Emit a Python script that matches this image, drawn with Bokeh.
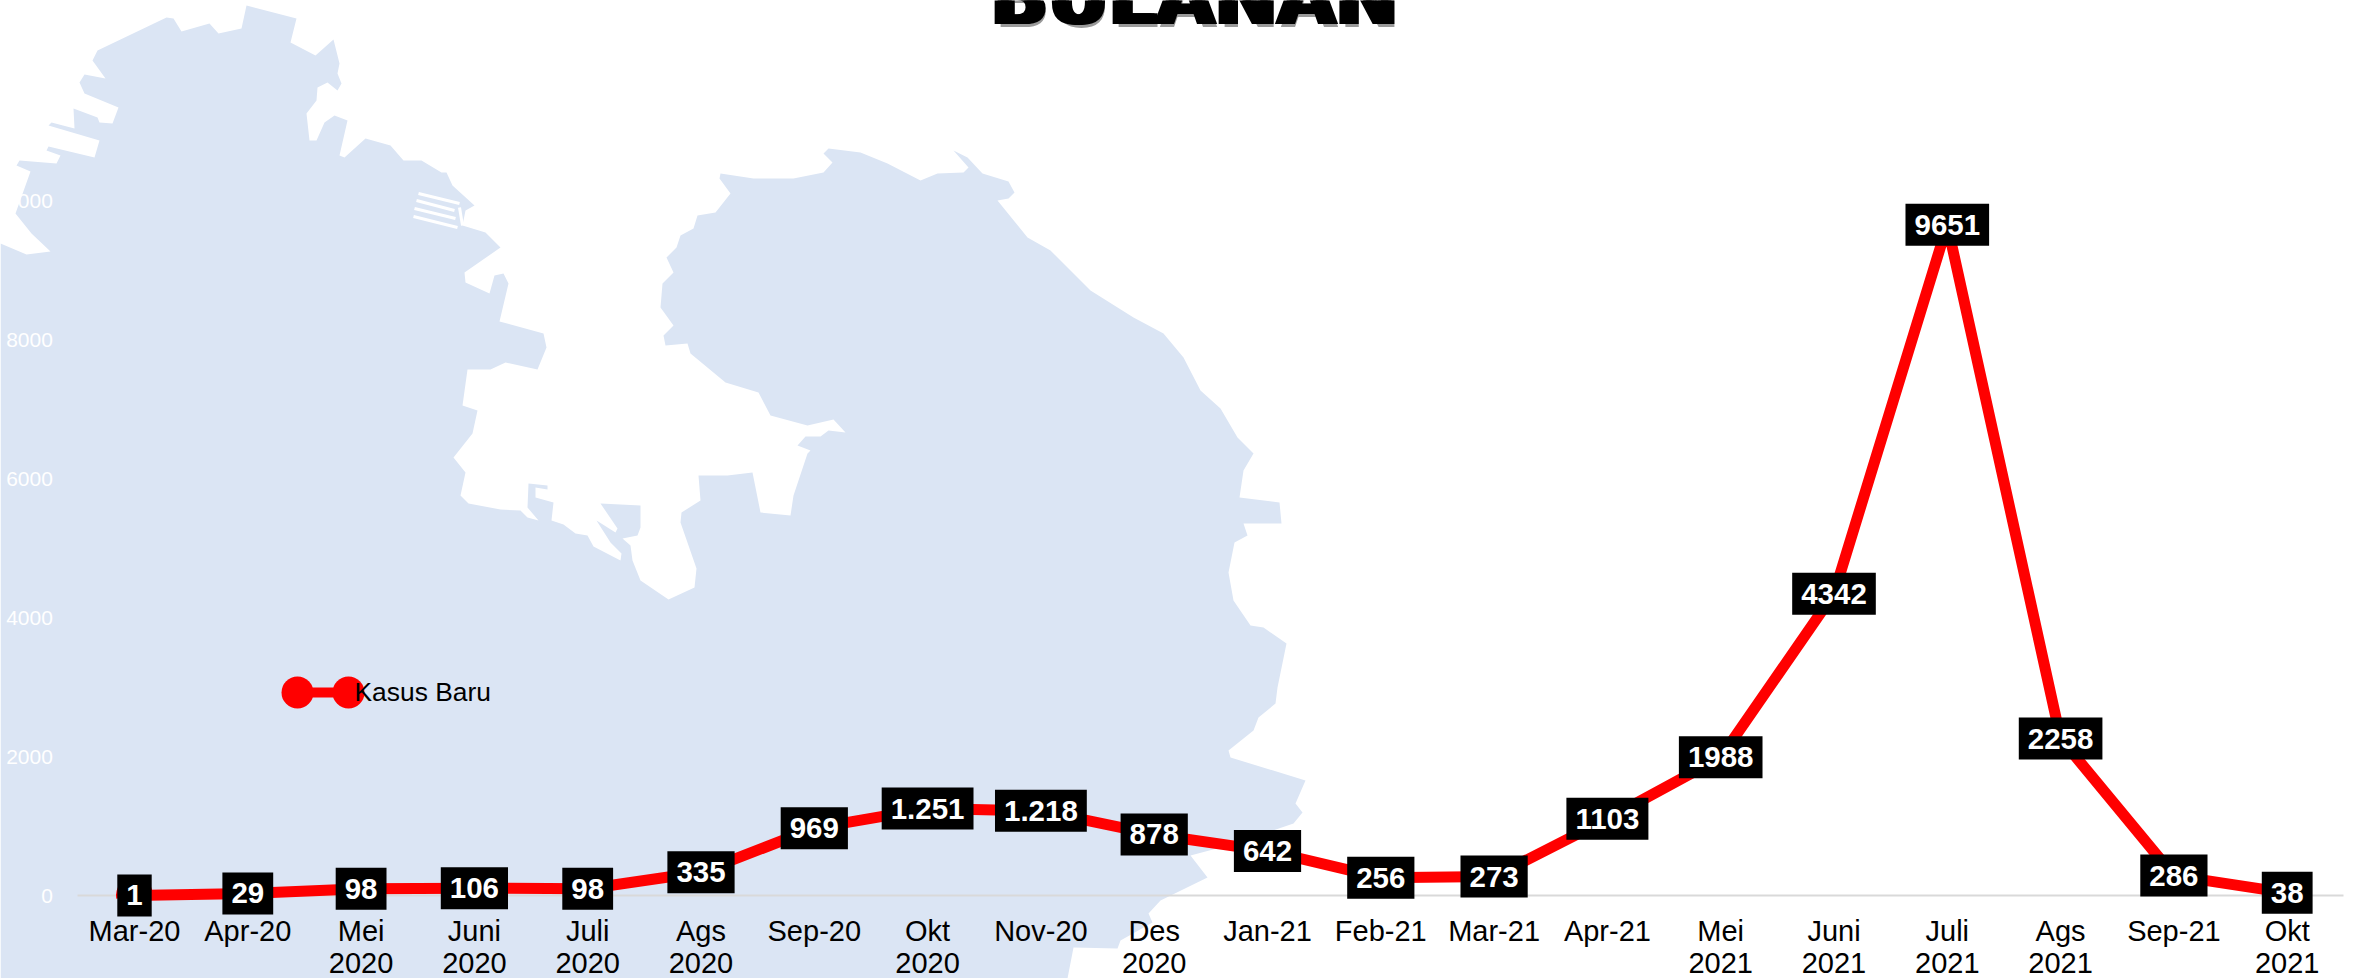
import math
from bokeh.plotting import figure
from bokeh.models import Range1d, FixedTicker, ColumnDataSource
from bokeh.core.properties import value
from bokeh.embed import file_html
from bokeh.resources import INLINE

months = ["Mar-20", "Apr-20", "Mei\n2020", "Juni\n2020", "Juli\n2020", "Ags\n2020", "Sep-20", "Okt\n2020",
          "Nov-20", "Des\n2020", "Jan-21", "Feb-21", "Mar-21", "Apr-21", "Mei\n2021", "Juni\n2021",
          "Juli\n2021", "Ags\n2021", "Sep-21", "Okt\n2021"]
kasus_baru = [1, 29, 98, 106, 98, 335, 969, 1251, 1218, 878, 642, 256, 273, 1103, 1988, 4342, 9651, 2258, 286, 38]
data_labels = ["1", "29", "98", "106", "98", "335", "969", "1.251", "1.218", "878", "642", "256", "273", "1103",
               "1988", "4342", "9651", "2258", "286", "38"]
y_ticks = [0, 2000, 4000, 6000, 8000, 10000]
title_text = "BULANAN"
series_name = "Kasus Baru"

# decorative background map outline, in reference pixels
map_outline = [(0,243),(26,254),(50,251),(31,233),(15,213),(30,171),(16,165),(19,160),(56,163),(60,155),(46,150),(48,146),
 (94,157),(99,140),(48,125),(51,122),(74,128),(73,108),(97,117),(99,122),(112,123),(118,107),(84,93),(79,82),(84,74),(105,78),
 (92,60),(97,50),(166,17),(173,18),(181,31),(209,23),(218,33),(241,28),(246,5),(296,18),(290,42),(315,55),(333,39),(339,63),
 (337,73),(341,83),(337,90),(327,82),(317,87),(316,100),(306,113),(309,140),(316,140),(324,122),(334,115),(347,120),(339,155),
 (344,157),(365,138),(390,145),(403,160),(421,160),(441,172),(446,172),(452,185),(474,205),(465,210),(462,225),(485,232),(500,247),
 (464,272),(465,282),(489,293),(494,275),(503,273),(508,283),(499,321),(543,333),(546,347),(537,369),(505,362),(490,369),(467,369),
 (462,405),(477,410),(472,433),(453,457),(465,472),(460,495),(468,503),(500,509),(520,510),(527,517),(538,520),(527,507),(528,483),
 (547,485),(547,489),(535,487),(535,497),(553,502),(551,520),(563,524),(575,533),(587,535),(593,546),(620,560),(621,553),(610,542),
 (596,520),(615,532),(617,528),(600,503),(640,505),(640,527),(637,535),(622,538),(630,545),(632,560),(640,580),(668,599),(694,587),
 (696,568),(680,522),(681,512),(700,500),(698,475),(727,475),(752,472),(760,512),(790,515),(793,495),(807,453),(810,450),(797,445),
 (805,436),(820,436),(828,430),(845,432),(833,419),(807,425),(770,415),(758,392),(725,382),(690,353),(687,343),(665,345),(663,335),
 (673,325),(660,307),(662,283),(673,272),(666,257),(676,247),(680,235),(693,228),(697,215),(715,212),(730,193),(719,178),(720,173),
 (753,178),(793,178),(823,172),(832,162),(823,153),(828,148),(860,152),(887,163),(920,180),(937,173),(963,172),(968,167),(953,150),
 (967,157),(982,173),(1008,181),(1014,192),(1008,198),(997,200),(1027,237),(1050,250),(1090,290),(1133,317),(1163,333),(1183,357),
 (1200,390),(1220,408),(1237,437),(1253,453),(1243,470),(1239,497),(1279,502),(1281,523),(1243,523),(1247,535),(1234,542),(1228,572),
 (1233,600),(1250,625),(1263,627),(1286,643),(1277,687),(1275,703),(1258,717),(1253,730),(1228,750),(1230,757),(1305,780),(1295,803),
 (1302,812),(1293,823),(1235,843),(1190,855),(1207,877),(1160,900),(1148,913),(1152,922),(1120,940),(1117,948),(1073,947),(1067,978),(0,978)]
jetty = [[(418,193),(459,203)],[(416,200),(454,210)],[(414,208),(455,218)],[(413,216),(457,227)],[(459,207),(462,225)]]

W, H = 2354, 978
X0, STEP = 134.0, 113.3     # pixel of first category, pixels per category
Y0, PX_PER = 895.0, 0.0695  # pixel of value 0, pixels per case

p = figure(width=W, height=H, output_backend="svg", toolbar_location=None,
           x_range=Range1d(-X0 / STEP, (W - X0) / STEP),
           y_range=Range1d(-(H - Y0) / PX_PER, Y0 / PX_PER),
           min_border=0, outline_line_color=None, background_fill_color="white",
           border_fill_color="white")
p.grid.visible = False
p.extra_x_ranges["px"] = Range1d(0, W)
p.extra_y_ranges["px"] = Range1d(H, 0)
px = dict(x_range_name="px", y_range_name="px")

p.patch([a for a, b in map_outline], [b for a, b in map_outline], fill_color="#DBE5F4", line_color=None, level="image", **px)
p.multi_line([[a for a, b in s] for s in jetty], [[b for a, b in s] for s in jetty], line_color="white", line_width=3, level="image", **px)

# axes
xa = p.xaxis[0]
xa.fixed_location = 0
xa.bounds = (-0.5, 19.5)
xa.ticker = FixedTicker(ticks=list(range(len(months))))
xa.major_label_overrides = {i: m for i, m in enumerate(months)}
xa.major_tick_line_color = None
xa.minor_tick_line_color = None
xa.axis_line_color = "#D9D9D9"
xa.axis_line_width = 2
xa.major_label_text_font = "Liberation Sans"
xa.major_label_text_font_size = "29px"
xa.major_label_text_color = "black"
xa.major_label_text_line_height = 1.0
xa.major_label_standoff = 13
xa.level = "underlay"

ya = p.yaxis[0]
ya.fixed_location = -0.5
ya.ticker = FixedTicker(ticks=y_ticks)
ya.axis_line_color = None
ya.major_tick_line_color = None
ya.minor_tick_line_color = None
ya.major_label_text_font = "Liberation Sans"
ya.major_label_text_font_size = "21px"
ya.major_label_text_color = "white"
ya.major_label_standoff = 19

src = ColumnDataSource(dict(x=list(range(len(months))), y=kasus_baru, label=data_labels))
p.line("x", "y", source=src, line_color="#FF0000", line_width=11, line_join="round")
p.wedge("x", "y", radius=18.5, radius_units="screen", start_angle=-math.radians(10), end_angle=math.radians(190),
        source=src, fill_color="#FF0000", line_color=None)
p.text("x", "y", text="label", source=src, text_color="white", text_font=value("Liberation Sans"),
       text_font_style="bold", text_font_size="29.5px", text_align="center", text_baseline="middle",
       background_fill_color="black", padding=(9, 11))

# legend
p.line([297, 348], [692, 692], line_color="#FF0000", line_width=10, **px)
p.scatter([297, 348], [692, 692], size=32, marker="circle", fill_color="#FF0000", line_color=None, **px)
p.text([354], [691], text=[series_name], text_color="black", text_font=value("Liberation Sans"),
       text_font_size="26.4px", text_align="left", text_baseline="middle", **px)

# title, cropped by the top edge
for dx, dy, col in [(3, 3, "#9a9a9a"), (-3, 0, "black"), (3, 0, "black"), (0, 0, "black")]:
    p.text([1194 + dx], [-3 + dy], text=[title_text], text_color=col, text_font=value("DejaVu Sans"),
           text_font_style="bold", text_font_size="75px", text_align="center", text_baseline="alphabetic", **px)

open("out.html", "w").write(file_html(p, INLINE))
